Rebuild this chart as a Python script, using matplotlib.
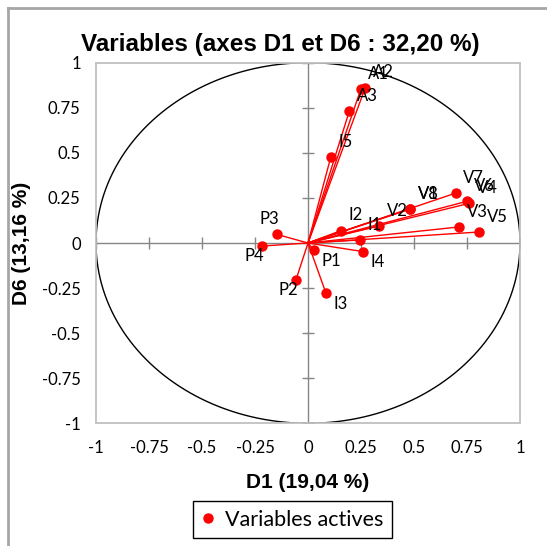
import numpy as np
import matplotlib
matplotlib.use("Agg")
import matplotlib.pyplot as plt
from matplotlib.lines import Line2D

# variables (coordinates on D1 / D6)
names = ["A1", "A2", "A3", "I5", "V7", "V6", "V4", "V1", "V8", "V3", "V5",
         "V2", "I1", "I2", "I4", "P1", "P2", "P3", "P4", "I3"]
d1 = [0.249, 0.270, 0.195, 0.107, 0.697, 0.749, 0.761, 0.483, 0.483, 0.712, 0.807,
      0.335, 0.245, 0.154, 0.261, 0.028, -0.057, -0.148, -0.218, 0.085]
d6 = [0.852, 0.861, 0.732, 0.475, 0.277, 0.231, 0.220, 0.189, 0.189, 0.089, 0.061,
      0.094, 0.017, 0.068, -0.048, -0.040, -0.205, 0.048, -0.017, -0.279]

ticks = [-1, -0.75, -0.5, -0.25, 0, 0.25, 0.5, 0.75, 1]
tick_labels = ["-1", "-0.75", "-0.5", "-0.25", "0", "0.25", "0.5", "0.75", "1"]

W, H = 547, 546
fig = plt.figure(figsize=(W / 100, H / 100), dpi=100)
ax = fig.add_axes([96 / W, 1 - 423.3 / H, 424 / W, 360.6 / H])

red = "#ff0000"
# unit circle
t = np.linspace(0, 2 * np.pi, 400)
ax.plot(np.cos(t), np.sin(t), color="black", lw=1, zorder=2)

# axes through origin with cross ticks
ax.axhline(0, color="#868686", lw=1, zorder=1)
ax.axvline(0, color="#868686", lw=1, zorder=1)
ax.plot(np.zeros(len(ticks)), ticks, ls="", marker="_", ms=8, mew=1, color="#868686", zorder=1)
ax.plot(ticks, np.zeros(len(ticks)), ls="", marker="|", ms=8, mew=1, color="#868686", zorder=1)

for x, y in zip(d1, d6):
    ax.plot([0, x], [0, y], color=red, lw=1, zorder=3)
ax.plot(d1, d6, ls="", marker="o", ms=6.5, color=red, zorder=4, label="Variables actives")

for n, x, y in zip(names, d1, d6):
    dx = 5.5 if x > 0 else 1.5
    dy = 11 if y > 0 else -7.5
    ax.annotate(n, (x, y), xytext=(dx, dy), textcoords="offset points",
                ha="left" if x > 0 else "right", va="center",
                fontsize=12, family="Lato", color="black", zorder=5)

ax.set_xlim(-1, 1)
ax.set_ylim(-1, 1)
ax.set_xticks(ticks)
ax.set_xticklabels(tick_labels)
ax.set_yticks(ticks)
ax.set_yticklabels(tick_labels)
ax.tick_params(length=0, labelsize=12)
ax.tick_params(axis="x", pad=12)
ax.tick_params(axis="y", pad=11)
for lab in ax.get_xticklabels() + ax.get_yticklabels():
    lab.set_family("Lato")
for s in ax.spines.values():
    s.set_color("#c0c0c0")
    s.set_linewidth(1.3)

fig.text(280 / W, 1 - 44 / H, "Variables (axes D1 et D6 : 32,20 %)", ha="center", va="center",
         fontsize=17.5, fontweight="bold", family="Liberation Sans")
fig.text(308 / W, 1 - 482 / H, "D1 (19,04 %)", ha="center", va="center",
         fontsize=15, fontweight="bold", family="Liberation Sans")
fig.text(22 / W, 1 - 243 / H, "D6 (13,16 %)", ha="center", va="center", rotation=90,
         fontsize=15, fontweight="bold", family="Liberation Sans")

leg = fig.legend(loc="center", bbox_to_anchor=(292.5 / W, 1 - 519.5 / H), fancybox=False,
                 framealpha=1, edgecolor="black", prop={"family": "Lato", "size": 15.5},
                 handlelength=0.6, handletextpad=0.5, borderpad=0.4, markerscale=1.0)
leg.get_frame().set_linewidth(1)

# outer chart border (top and left visible)
fig.add_artist(Line2D([8 / W, 8 / W], [0, 1 - 8 / H], color="#a6a6a6", lw=2))
fig.add_artist(Line2D([8 / W, 1], [1 - 8 / H, 1 - 8 / H], color="#a6a6a6", lw=2))

fig.savefig("out.png", dpi=100)
